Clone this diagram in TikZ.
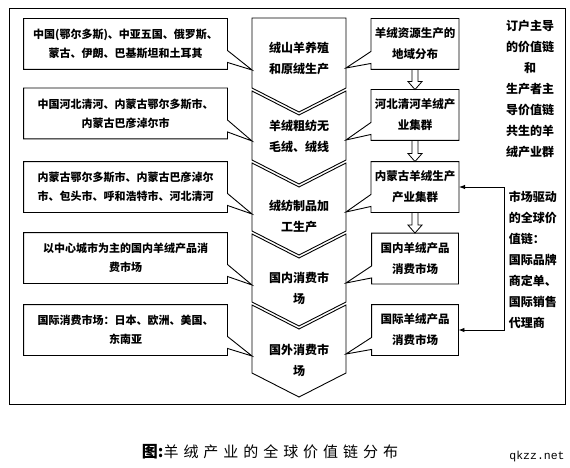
\documentclass[tikz,border=0pt]{standalone}
\usepackage{fontspec}
\setmainfont{Noto Sans CJK SC}
\setmonofont{Liberation Mono}
\usetikzlibrary{calc,arrows.meta}

\begin{document}
\begin{tikzpicture}[x=1pt, y=-1pt, line width=0.9pt,
  place/.style={minimum width=203pt, minimum height=50pt, align=center,
    font=\fontsize{11}{19}\selectfont\bfseries},
  cluster/.style={minimum width=86pt, minimum height=50pt, align=center,
    font=\fontsize{11.5}{21}\selectfont\bfseries},
  stage/.style={align=center, font=\fontsize{12}{21}\selectfont\bfseries},
  note/.style={font=\fontsize{12}{21}\selectfont\bfseries},
  twin/.style={line width=0.8pt, line join=miter}]
  \useasboundingbox (0,0) rectangle (570,468);
  \draw (9,8) rectangle (565,404);

  % chain of stages
  \draw (252,18) -- (346,18) -- (346,88) -- (299,112) -- (252,88) -- cycle;
  \draw (252,91) -- (299,115) -- (346,91) -- (346,160) -- (299,184) -- (252,160) -- cycle;
  \draw (252,163) -- (299,187) -- (346,163) -- (346,231) -- (299,255) -- (252,231) -- cycle;
  \draw (252,234) -- (299,258) -- (346,234) -- (346,302) -- (299,326) -- (252,302) -- cycle;
  \draw (252,305) -- (299,329) -- (346,305) -- (346,373) -- (299,397) -- (252,373) -- cycle;
  \node[stage] (stage1) at (299,59) {绒山羊养殖\\和原绒生产};
  \node[stage] (stage2) at (299,137) {羊绒粗纺无\\毛绒、绒线};
  \node[stage] (stage3) at (299,216) {绒纺制品加\\工生产};
  \node[stage] (stage4) at (299,288) {国内消费市\\场};
  \node[stage] (stage5) at (299,360) {国外消费市\\场};
  \coordinate (w1) at (252,70);
  \coordinate (w2) at (252,141);
  \coordinate (w3) at (252,214);
  \coordinate (w4) at (252,285);
  \coordinate (w5) at (252,356);
  \coordinate (e1) at (346,68);
  \coordinate (e2) at (346,140);
  \coordinate (e3) at (346,212);
  \coordinate (e4) at (346,283);
  \coordinate (e5) at (346,354);

  % places on the left
  \node[place] (place1) at (125.5,44) {中国(鄂尔多斯)、中亚五国、俄罗斯、\\蒙古、伊朗、巴基斯坦和土耳其};
  \node[place] (place2) at (125.5,113.5) {中国河北清河、内蒙古鄂尔多斯市、\\内蒙古巴彦淖尔市};
  \node[place] (place3) at (125.5,187) {内蒙古鄂尔多斯市、内蒙古巴彦淖尔\\市、包头市、呼和浩特市、河北清河};
  \node[place] (place4) at (125.5,258) {以中心城市为主的国内羊绒产品消\\费市场};
  \node[place] (place5) at (125.5,330) {国际消费市场：日本、欧洲、美国、\\东南亚};
  \draw (place1.north west) -- (place1.north east) -- ($(place1.south east)+(0,-19)$) -- (w1) -- ($(place1.south east)+(0,-7)$) -- (place1.south east) -- (place1.south west) -- cycle;
  \draw (place2.north west) -- (place2.north east) -- ($(place2.south east)+(0,-19)$) -- (w2) -- ($(place2.south east)+(0,-7)$) -- (place2.south east) -- (place2.south west) -- cycle;
  \draw (place3.north west) -- (place3.north east) -- ($(place3.south east)+(0,-19)$) -- (w3) -- ($(place3.south east)+(0,-7)$) -- (place3.south east) -- (place3.south west) -- cycle;
  \draw (place4.north west) -- (place4.north east) -- ($(place4.south east)+(0,-19)$) -- (w4) -- ($(place4.south east)+(0,-7)$) -- (place4.south east) -- (place4.south west) -- cycle;
  \draw (place5.north west) -- (place5.north east) -- ($(place5.south east)+(0,-19)$) -- (w5) -- ($(place5.south east)+(0,-7)$) -- (place5.south east) -- (place5.south west) -- cycle;

  % clusters on the right
  \node[cluster] (cluster1) at (415,44) {羊绒资源生产的\\地域分布};
  \node[cluster] (cluster2) at (415,115) {河北清河羊绒产\\业集群};
  \node[cluster] (cluster3) at (415,187) {内蒙古羊绒生产\\产业集群};
  \node[cluster] (cluster4) at (415,258.5) {国内羊绒产品\\消费市场};
  \node[cluster] (cluster5) at (415,330) {国际羊绒产品\\消费市场};
  \draw (cluster1.north west) -- (cluster1.north east) -- (cluster1.south east) -- (cluster1.south west) -- ($(cluster1.south west)+(0,-6)$) -- (e1) -- ($(cluster1.south west)+(0,-18)$) -- cycle;
  \draw (cluster2.north west) -- (cluster2.north east) -- (cluster2.south east) -- (cluster2.south west) -- ($(cluster2.south west)+(0,-6)$) -- (e2) -- ($(cluster2.south west)+(0,-18)$) -- cycle;
  \draw (cluster3.north west) -- (cluster3.north east) -- (cluster3.south east) -- (cluster3.south west) -- ($(cluster3.south west)+(0,-6)$) -- (e3) -- ($(cluster3.south west)+(0,-18)$) -- cycle;
  \draw (cluster4.north west) -- (cluster4.north east) -- (cluster4.south east) -- (cluster4.south west) -- ($(cluster4.south west)+(0,-6)$) -- (e4) -- ($(cluster4.south west)+(0,-18)$) -- cycle;
  \draw (cluster5.north west) -- (cluster5.north east) -- (cluster5.south east) -- (cluster5.south west) -- ($(cluster5.south west)+(0,-6)$) -- (e5) -- ($(cluster5.south west)+(0,-18)$) -- cycle;
  % hollow arrows between clusters
  \draw[twin] ($(cluster1.south)+(-3,0)$) -- ($(cluster2.north)+(-3,-8)$) -- ($(cluster2.north)+(-7,-8)$) -- (cluster2.north) -- ($(cluster2.north)+(7,-8)$) -- ($(cluster2.north)+(3,-8)$) -- ($(cluster1.south)+(3,0)$);
  \draw[twin] ($(cluster2.south)+(-3,0)$) -- ($(cluster3.north)+(-3,-8)$) -- ($(cluster3.north)+(-7,-8)$) -- (cluster3.north) -- ($(cluster3.north)+(7,-8)$) -- ($(cluster3.north)+(3,-8)$) -- ($(cluster2.south)+(3,0)$);
  \draw[twin] ($(cluster3.south)+(-3,0)$) -- ($(cluster4.north)+(-3,-8)$) -- ($(cluster4.north)+(-7,-8)$) -- (cluster4.north) -- ($(cluster4.north)+(7,-8)$) -- ($(cluster4.north)+(3,-8)$) -- ($(cluster3.south)+(3,0)$);

  % notes at the far right
  \node[note, align=center] (producers) at (530,89.5) {订户主导\\的价值链\\和\\生产者主\\导价值链\\共生的羊\\绒产业群};
  \node[note, align=left, anchor=west] (market) at (505,260) {市场驱动\\的全球价\\值链：\\国际品牌\\商定单、\\国际销售\\代理商};
  \draw[{Latex[length=6pt]}-{Latex[length=6pt]}] (cluster3.east) -- ++(45,0) |- (cluster5.east);

  \node (caption) at (270,452) {\fontsize{16}{16}\selectfont\bfseries 图:\normalfont\fontsize{15}{15}\selectfont\addfontfeature{LetterSpace=33}羊绒产业的全球价值链分布};
  \node[font=\ttfamily\fontsize{11.5}{12}\selectfont] (site) at (537,457) {qkzz.net};
\end{tikzpicture}
\end{document}
